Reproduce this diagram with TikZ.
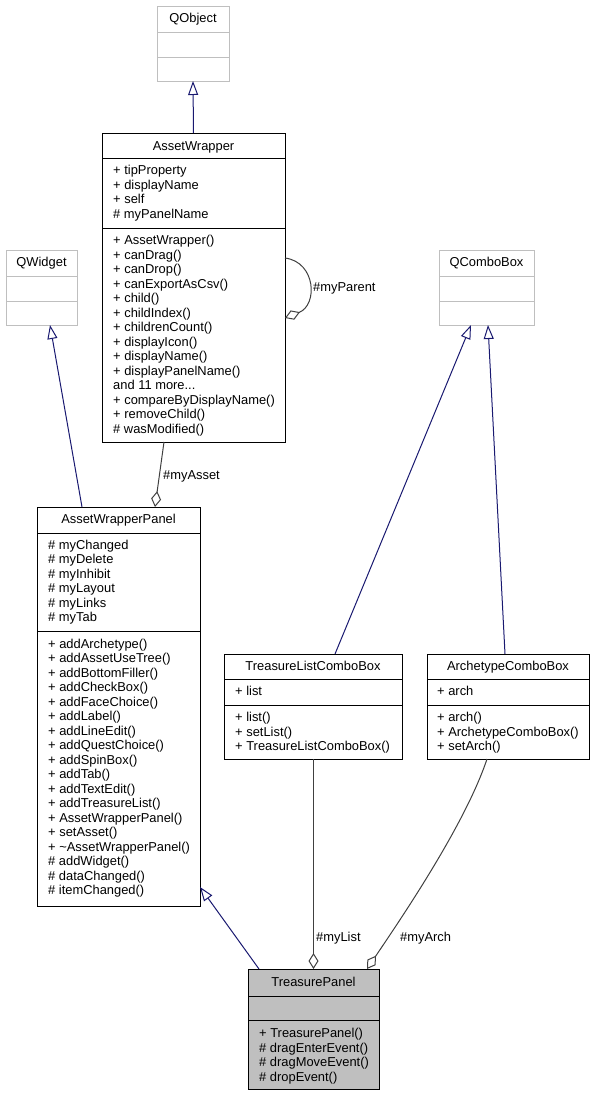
\documentclass[tikz,border=0pt]{standalone}
\usepackage{fontspec}
\setmainfont{Liberation Sans}
\usetikzlibrary{arrows.meta,calc}
\definecolor{navy}{HTML}{191970}
\definecolor{edgegray}{HTML}{404040}
\definecolor{extgray}{HTML}{BFBFBF}
\newcommand\dfont{\fontsize{12.9}{14}\selectfont}
\newcommand\awmore{and 11 more...}
\begin{document}
\begin{tikzpicture}[x=1pt,y=-1pt,
  box/.style={draw=black, line width=1pt, fill=white, inner sep=0pt, outer sep=0pt, anchor=north west},
  extbox/.style={box, draw=extgray},
  mainbox/.style={box, fill=extgray},
  div/.style={line width=1pt},
  mem/.style={font=\dfont, anchor=base west, inner sep=0pt},
  ttl/.style={font=\dfont, anchor=base, inner sep=0pt},
  lbl/.style={font=\dfont, anchor=base west, inner sep=0pt},
  inh/.style={draw=navy, line width=1pt, -{Triangle[open, length=14pt, width=10pt]}},
  agg/.style={draw=edgegray, line width=1pt, {Diamond[open, length=16pt, width=10pt]}-},
]
\useasboundingbox (0,0) rectangle (595,1096);

% QObject
\node[extbox, minimum width=72, minimum height=75] (qobject) at (157,6) {};
\draw[div, draw=extgray] (157,32) -- (229,32);
\draw[div, draw=extgray] (157,57) -- (229,57);
\node[ttl] (qobject-t) at (193,22) {QObject};

% QWidget
\node[extbox, minimum width=71, minimum height=75] (qwidget) at (6,250) {};
\draw[div, draw=extgray] (6,276) -- (77,276);
\draw[div, draw=extgray] (6,301) -- (77,301);
\node[ttl] (qwidget-t) at (41.5,266.5) {QWidget};

% QComboBox
\node[extbox, minimum width=95, minimum height=75] (qcombo) at (439,250) {};
\draw[div, draw=extgray] (439,276) -- (534,276);
\draw[div, draw=extgray] (439,301) -- (534,301);
\node[ttl] (qcombo-t) at (486.5,266.5) {QComboBox};

% AssetWrapper
\node[box, minimum width=183, minimum height=309] (aw) at (102,133) {};
\draw[div] (102,158) -- (285,158);
\draw[div] (102,228) -- (285,228);
\node[ttl] (aw-t) at (193.5,150) {AssetWrapper};
\foreach \t [count=\i] in {+ tipProperty, + displayName, + self, \# myPanelName}
  \node[mem] (aw-a\i) at (113,{174.5+(\i-1)*14.5}) {\t};
\foreach \t [count=\i] in {+ AssetWrapper(), + canDrag(), + canDrop(), + canExportAsCsv(), + child(), + childIndex(), + childrenCount(), + displayIcon(), + displayName(), + displayPanelName(), \awmore, + compareByDisplayName(), + removeChild(), \# wasModified()}
  \node[mem] (aw-m\i) at (113,{244.5+(\i-1)*14.5}) {\t};

% AssetWrapperPanel
\node[box, minimum width=163, minimum height=399] (awp) at (37,507) {};
\draw[div] (37,533) -- (200,533);
\draw[div] (37,631) -- (200,631);
\node[ttl] (awp-t) at (118.5,523.5) {AssetWrapperPanel};
\foreach \t [count=\i] in {\# myChanged, \# myDelete, \# myInhibit, \# myLayout, \# myLinks, \# myTab}
  \node[mem] (awp-a\i) at (48,{549+(\i-1)*14.5}) {\t};
\foreach \t [count=\i] in {+ addArchetype(), + addAssetUseTree(), + addBottomFiller(), + addCheckBox(), + addFaceChoice(), + addLabel(), + addLineEdit(), + addQuestChoice(), + addSpinBox(), + addTab(), + addTextEdit(), + addTreasureList(), + AssetWrapperPanel(), + setAsset(), + \textasciitilde AssetWrapperPanel(), \# addWidget(), \# dataChanged(), \# itemChanged()}
  \node[mem] (awp-m\i) at (48,{648+(\i-1)*14.5}) {\t};

% TreasureListComboBox
\node[box, minimum width=178, minimum height=105] (tlcb) at (224,654) {};
\draw[div] (224,679) -- (402,679);
\draw[div] (224,705) -- (402,705);
\node[ttl] (tlcb-t) at (313,670) {TreasureListComboBox};
\node[mem] (tlcb-a1) at (235,695.5) {+ list};
\foreach \t [count=\i] in {+ list(), + setList(), + TreasureListComboBox()}
  \node[mem] (tlcb-m\i) at (235,{721.5+(\i-1)*14.5}) {\t};

% ArchetypeComboBox
\node[box, minimum width=162, minimum height=105] (acb) at (427,654) {};
\draw[div] (427,679) -- (589,679);
\draw[div] (427,705) -- (589,705);
\node[ttl] (acb-t) at (508,670) {ArchetypeComboBox};
\node[mem] (acb-a1) at (437,695.5) {+ arch};
\foreach \t [count=\i] in {+ arch(), + ArchetypeComboBox(), + setArch()}
  \node[mem] (acb-m\i) at (437,{721.5+(\i-1)*14.5}) {\t};

% TreasurePanel
\node[mainbox, minimum width=131, minimum height=120] (tp) at (248,969) {};
\draw[div] (248,996) -- (379,996);
\draw[div] (248,1020) -- (379,1020);
\node[ttl] (tp-t) at (313.5,986) {TreasurePanel};
\foreach \t [count=\i] in {+ TreasurePanel(), \# dragEnterEvent(), \# dragMoveEvent(), \# dropEvent()}
  \node[mem] (tp-m\i) at (259,{1037.5+(\i-1)*14.5}) {\t};

% inheritance
\draw[inh] (aw.north) -- (qobject.south);
\draw[inh] ($(awp.north west)+(45,0)$) -- ($(qwidget.south west)+(44,0)$);
\draw[inh] ($(tlcb.north west)+(111,0)$) -- ($(qcombo.south west)+(32,0)$);
\draw[inh] ($(acb.north west)+(78,0)$) -- ($(qcombo.south west)+(49,0)$);
\draw[inh] ($(tp.north west)+(11,0)$) -- ($(awp.south east)+(0,-19)$);

% aggregation
\draw[agg] ($(aw.north east)+(0,185)$) .. controls (318,305) and (316,262) .. ($(aw.north east)+(0,125)$);
\node[lbl] (l-parent) at (313,291) {\#myParent};
\draw[agg] ($(awp.north west)+(118,0)$) -- ($(aw.south west)+(62,0)$);
\node[lbl] (l-asset) at (163,479.5) {\#myAsset};
\draw[agg] (tp.north) -- (tp.north |- tlcb.south);
\node[lbl] (l-list) at (316,941.5) {\#myList};
\draw[agg] ($(tp.north east)+(-12,0)$) .. controls (400,920) and (465,825) .. ($(acb.south west)+(60,0)$);
\node[lbl] (l-arch) at (400,941.5) {\#myArch};
\end{tikzpicture}
\end{document}
